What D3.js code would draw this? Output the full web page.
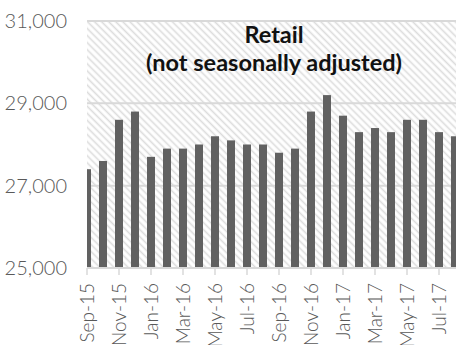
<!DOCTYPE html>
<html>
<head>
<meta charset="utf-8">
<script src="https://cdn.jsdelivr.net/npm/d3@7/dist/d3.min.js"></script>
<style>
  html, body { margin: 0; padding: 0; background: #fff; overflow: hidden; }
  svg { display: block; }
</style>
</head>
<body>
<svg id="chart" width="456" height="345"></svg>
<script>
// Monthly retail figures, not seasonally adjusted
const months = ["Sep-15","Oct-15","Nov-15","Dec-15","Jan-16","Feb-16","Mar-16","Apr-16",
  "May-16","Jun-16","Jul-16","Aug-16","Sep-16","Oct-16","Nov-16","Dec-16",
  "Jan-17","Feb-17","Mar-17","Apr-17","May-17","Jun-17","Jul-17","Aug-17"];
const retail = [27400, 27600, 28600, 28800, 27700, 27900, 27900, 28000,
  28200, 28100, 28000, 28000, 27800, 27900, 28800, 29200,
  28700, 28300, 28400, 28300, 28600, 28600, 28300, 28200];
const yTicks = [25000, 27000, 29000, 31000];
const titleLines = ["Retail", "(not seasonally adjusted)"];

const svg = d3.select("#chart");
const W = 456, H = 345;
const plotLeft = 87, plotTop = 21, plotBottom = 268;

const x = d3.scaleBand()
  .domain(months)
  .range([79, 463])
  .paddingInner(0.5)
  .paddingOuter(0.25);

const y = d3.scaleLinear()
  .domain([25000, 31000])
  .range([plotBottom, plotTop]);

const defs = svg.append("defs");
const pat = defs.append("pattern")
  .attr("id", "hatch")
  .attr("patternUnits", "userSpaceOnUse")
  .attr("width", 5).attr("height", 5)
  .attr("patternTransform", "rotate(-45)");
pat.append("rect").attr("width", 5).attr("height", 5).attr("fill", "#ffffff");
pat.append("line")
  .attr("x1", 1.5).attr("y1", 0).attr("x2", 1.5).attr("y2", 5)
  .attr("stroke", "#dcdcdc").attr("stroke-width", 1.6);

defs.append("clipPath").attr("id", "plotClip")
  .append("rect")
  .attr("x", plotLeft).attr("y", plotTop - 2)
  .attr("width", W - plotLeft).attr("height", plotBottom - plotTop + 2);

// Hatched plot background
svg.append("rect")
  .attr("x", plotLeft).attr("y", y(31000))
  .attr("width", W - plotLeft).attr("height", y(25000) - y(31000))
  .attr("fill", "url(#hatch)");

// Horizontal gridlines
svg.append("g")
  .selectAll("line")
  .data(yTicks)
  .join("line")
  .attr("x1", plotLeft).attr("x2", W)
  .attr("y1", d => y(d)).attr("y2", d => y(d))
  .attr("stroke", "#d9d9d9").attr("stroke-width", 2);

// Bars
svg.append("g")
  .attr("clip-path", "url(#plotClip)")
  .selectAll("rect")
  .data(months)
  .join("rect")
  .attr("x", d => x(d))
  .attr("width", x.bandwidth())
  .attr("y", (d, i) => y(retail[i]))
  .attr("height", (d, i) => y(25000) - y(retail[i]))
  .attr("fill", "#616161");

const labelFont = "Lato, 'Open Sans', sans-serif";

// Y axis labels
const yAxis = svg.append("g")
  .attr("transform", `translate(${plotLeft},0)`)
  .call(d3.axisLeft(y).tickValues(yTicks).tickFormat(d3.format(",")).tickSize(0).tickPadding(20));
yAxis.select(".domain").remove();
yAxis.selectAll("text")
  .attr("fill", "#595959")
  .style("font-family", labelFont)
  .style("font-weight", "300")
  .style("font-size", "20px");

// X axis
const xAxis = svg.append("g")
  .attr("transform", `translate(0,${plotBottom})`)
  .call(d3.axisBottom(x).tickValues(months.filter((d, i) => i % 2 === 0)).tickSize(7).tickPadding(8));
xAxis.select(".domain")
  .attr("d", `M${plotLeft},0H${W}`)
  .attr("stroke", "#d9d9d9").attr("stroke-width", 2);
xAxis.selectAll(".tick line").attr("stroke", "#d9d9d9").attr("stroke-width", 1.5);
xAxis.selectAll("text")
  .attr("fill", "#595959")
  .style("font-family", labelFont)
  .style("font-weight", "300")
  .style("font-size", "19px")
  .attr("text-anchor", "end")
  .attr("dy", "0.35em")
  .attr("transform", "rotate(-90)")
  .attr("x", -15)
  .attr("y", 0);

// Title
const title = svg.append("text")
  .attr("x", 274)
  .attr("text-anchor", "middle")
  .attr("fill", "#111")
  .style("font-family", "Lato, 'Open Sans', sans-serif")
  .style("font-weight", "700")
  .style("font-size", "23.5px");
title.selectAll("tspan")
  .data(titleLines)
  .join("tspan")
  .attr("x", 274)
  .attr("y", (d, i) => 43 + i * 28)
  .text(d => d);
</script>
</body>
</html>
